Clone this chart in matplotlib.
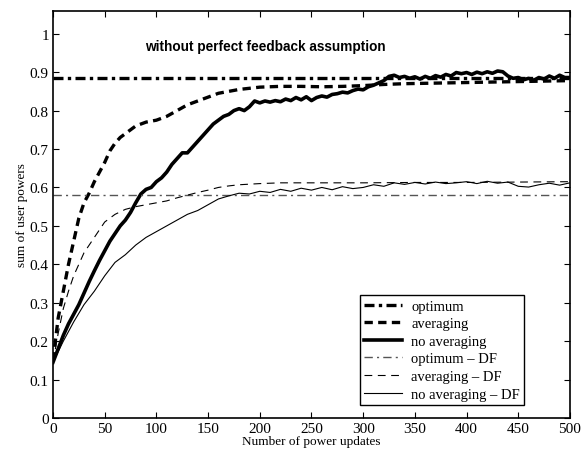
import matplotlib.pyplot as plt
import numpy as np

# sum of user powers vs number of power updates
optimum = 0.885
optimum_df = 0.58

# no averaging (thick solid), sampled every 5 updates
x_noavg = np.arange(0, 501, 5)
y_noavg = [0.145, 0.18, 0.215, 0.245, 0.27, 0.295, 0.325, 0.355, 0.383, 0.41,
           0.435, 0.46, 0.48, 0.50, 0.515, 0.535, 0.56, 0.583, 0.595, 0.60,
           0.615, 0.625, 0.64, 0.66, 0.675, 0.69, 0.69, 0.705, 0.72, 0.735,
           0.75, 0.765, 0.775, 0.785, 0.79, 0.80, 0.805, 0.80, 0.81, 0.825,
           0.82, 0.825, 0.822, 0.826, 0.823, 0.83, 0.826, 0.834, 0.828, 0.836,
           0.826, 0.834, 0.838, 0.835, 0.842, 0.844, 0.848, 0.846, 0.852, 0.856,
           0.854, 0.862, 0.866, 0.872, 0.878, 0.889, 0.892, 0.886, 0.889, 0.884,
           0.888, 0.882, 0.889, 0.884, 0.891, 0.887, 0.894, 0.89, 0.899, 0.896,
           0.899, 0.894, 0.9, 0.896, 0.901, 0.897, 0.903, 0.901, 0.89, 0.884,
           0.886, 0.88, 0.884, 0.879, 0.886, 0.882, 0.89, 0.884, 0.892, 0.886,
           0.886]

# averaging (thick dashed)
x_avg = [0, 5, 10, 15, 20, 25, 30, 35, 40, 45, 50, 55, 60, 65, 70, 75, 80, 90,
         100, 110, 120, 130, 140, 150, 160, 170, 180, 190, 200, 220, 240, 260,
         280, 300, 320, 340, 360, 380, 400, 420, 440, 460, 480, 500]
y_avg = [0.15, 0.26, 0.33, 0.40, 0.46, 0.52, 0.56, 0.585, 0.615, 0.64, 0.665,
         0.695, 0.715, 0.73, 0.74, 0.75, 0.76, 0.77, 0.775, 0.785, 0.80, 0.815,
         0.825, 0.835, 0.845, 0.85, 0.855, 0.858, 0.861, 0.863, 0.863, 0.862,
         0.863, 0.865, 0.868, 0.87, 0.871, 0.872, 0.873, 0.874, 0.875, 0.876,
         0.877, 0.878]

# averaging - DF (thin dashed)
x_avg_df = [0, 5, 10, 15, 20, 25, 30, 40, 50, 60, 70, 80, 90, 100, 110, 120,
            130, 140, 150, 160, 170, 180, 200, 220, 250, 300, 350, 400, 450, 500]
y_avg_df = [0.145, 0.22, 0.285, 0.33, 0.37, 0.40, 0.43, 0.47, 0.51, 0.53,
            0.543, 0.55, 0.555, 0.56, 0.565, 0.573, 0.58, 0.587, 0.593, 0.60,
            0.604, 0.607, 0.61, 0.612, 0.612, 0.612, 0.613, 0.613, 0.614, 0.615]

# no averaging - DF (thin solid), every 10 updates
x_noavg_df = np.arange(0, 501, 10)
y_noavg_df = [0.145, 0.2, 0.25, 0.295, 0.33, 0.37, 0.405, 0.425, 0.45, 0.47,
              0.485, 0.5, 0.515, 0.53, 0.54, 0.555, 0.57, 0.578, 0.585, 0.583,
              0.59, 0.587, 0.595, 0.59, 0.598, 0.593, 0.6, 0.594, 0.602, 0.597,
              0.6, 0.607, 0.603, 0.612, 0.608, 0.613, 0.609, 0.614, 0.61, 0.612,
              0.615, 0.61, 0.616, 0.611, 0.614, 0.603, 0.601, 0.607, 0.611, 0.606,
              0.612]

plt.rcParams['font.family'] = 'Liberation Serif'

fig = plt.figure(figsize=(5.81, 4.56), dpi=100)
ax = fig.add_axes([0.0912, 0.0811, 0.8898, 0.8933])

ax.axhline(optimum, color='black', lw=2.4, dashes=(3, 1.3, 1, 1.3), label='optimum')
ax.plot(x_avg, y_avg, color='black', lw=2.4, dashes=(2.5, 1.6), label='averaging')
ax.plot(x_noavg, y_noavg, color='black', lw=2.6, label='no averaging')
ax.axhline(optimum_df, color='#555555', lw=1.0, dashes=(6, 3, 1.5, 3), label='optimum – DF')
ax.plot(x_avg_df, y_avg_df, color='black', lw=0.8, dashes=(7, 5), label='averaging – DF')
ax.plot(x_noavg_df, y_noavg_df, color='black', lw=0.8, label='no averaging – DF')

ax.set_xlim(0, 500)
ax.set_ylim(0, 1.06)
ax.set_xticks(np.arange(0, 501, 50))
ax.set_yticks([0, 0.1, 0.2, 0.3, 0.4, 0.5, 0.6, 0.7, 0.8, 0.9, 1])
ax.set_yticklabels(['0', '0.1', '0.2', '0.3', '0.4', '0.5', '0.6', '0.7', '0.8', '0.9', '1'])
ax.tick_params(direction='in', top=True, right=True, length=4, width=0.8,
               labelsize=11, pad=3)
for s in ax.spines.values():
    s.set_linewidth(1.2)

ax.set_xlabel('Number of power updates', fontsize=9.5, labelpad=0)
ax.set_ylabel('sum of user powers', fontsize=9.5, labelpad=1)

ax.text(205, 0.969, 'without perfect feedback assumption', family='Liberation Sans',
        fontweight='bold', fontsize=9.8, ha='center', va='center')

leg = ax.legend(loc='lower left', bbox_to_anchor=(0.594, 0.032), borderaxespad=0,
                fontsize=10.5, fancybox=False, framealpha=1, edgecolor='black',
                handlelength=2.6, handletextpad=0.6, labelspacing=0.3,
                borderpad=0.3)
leg.get_frame().set_linewidth(1.0)

plt.savefig('out.png', dpi=100)
